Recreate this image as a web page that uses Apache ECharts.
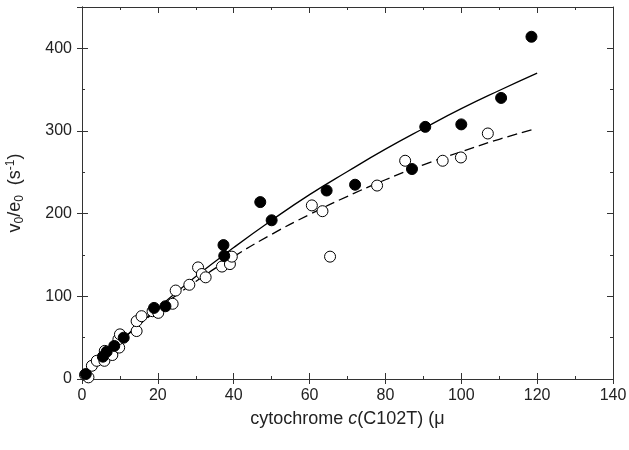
<!DOCTYPE html>
<html>
<head>
<meta charset="utf-8">
<script src="https://cdn.jsdelivr.net/npm/echarts@6/dist/echarts.min.js"></script>
<style>html,body{margin:0;padding:0;background:#fff}#c{width:629px;height:450px}</style>
</head>
<body>
<div id="c"></div>
<script>
// filled circles [conc, rate]
var filledPts = [
  [1, 6], [5.5, 27], [6.5, 33], [8.5, 40], [11, 50], [19, 86], [22, 88],
  [37.3, 162], [37.5, 149], [47, 214], [50, 192], [64.5, 228], [72, 235],
  [87, 254], [90.5, 305], [100, 308], [110.5, 340], [118.5, 414]
];
// open circles
var openPts = [
  [0.8, 5], [1.7, 2], [2.6, 16], [3.9, 22], [5.9, 22], [6, 34], [8, 29],
  [9.8, 38], [9.6, 48], [10, 54], [14.4, 58], [14.4, 70], [15.7, 76],
  [18.6, 82], [20.1, 80], [23.9, 91], [24.7, 107], [28.3, 114], [30.6, 135],
  [31.6, 127], [32.6, 123], [36.9, 136], [39, 139], [39.5, 148], [60.6, 210],
  [63.4, 203], [65.4, 148], [77.8, 234], [85.2, 264], [95.1, 264], [99.9, 268],
  [107, 297]
];
// fitted curves
var solidFit = [
  [0, 0], [10, 45], [20, 86], [30, 124], [40, 159], [50, 192], [60, 223],
  [70, 251], [80, 278], [90, 303], [100, 327], [110, 349], [120, 370]
];
var dashFit = [
  [0, 0], [10, 45], [20, 84], [30, 118], [40, 148], [50, 175], [60, 199],
  [70, 221], [80, 241], [90, 259], [100, 275], [110, 290], [119, 302]
];

var font = 'Liberation Sans, Arial, sans-serif';
var axisCol = '#333';

function frameAxis(pos, isX) {
  return {
    type: 'value', position: pos, min: 0, max: isX ? 140 : 450,
    interval: isX ? 20 : 100,
    axisLine: { show: true, onZero: false, lineStyle: { color: axisCol, width: 1 } },
    axisTick: { show: true, inside: true, length: 6, lineStyle: { color: axisCol } },
    minorTick: { show: true, splitNumber: 2, length: 3, lineStyle: { color: axisCol } },
    axisLabel: { show: false },
    splitLine: { show: false }
  };
}

var chart = echarts.init(document.getElementById('c'));
var xMain = frameAxis('bottom', true);
xMain.axisLabel = { show: true, color: '#222', fontSize: 16, fontFamily: font, margin: 9 };
xMain.axisTick = { show: true, inside: false, length: 5, lineStyle: { color: axisCol } };
xMain.minorTick = { show: false };
xMain.name = '{n|cytochrome }{i|c}{n|(C102T) (\u03bc}';
xMain.nameLocation = 'middle';
xMain.nameGap = 31;
xMain.nameTextStyle = {
  rich: {
    n: { fontSize: 18, fontFamily: font, color: '#222' },
    i: { fontSize: 18, fontFamily: font, color: '#222', fontStyle: 'italic' }
  }
};
var xIn = frameAxis('bottom', true);
var xTop = frameAxis('top', true);

var yMain = frameAxis('left', false);
yMain.axisLabel = {
  show: true, color: '#222', fontSize: 16, fontFamily: font, margin: 10,
  formatter: function (v) { return v > 400 ? '' : v; }
};
yMain.axisTick = { show: true, inside: false, length: 5, lineStyle: { color: axisCol } };
yMain.minorTick = { show: false };
yMain.name = '{n|v}{s|0}{n|/e}{s|0}{n|  (s}{p|-1}{n|)}';
yMain.nameLocation = 'middle';
yMain.nameRotate = 90;
yMain.nameGap = 56;
yMain.nameTextStyle = {
  rich: {
    n: { fontSize: 18, fontFamily: font, color: '#222' },
    s: { fontSize: 12, fontFamily: font, color: '#222', padding: [10, 0, 0, 0] },
    p: { fontSize: 12, fontFamily: font, color: '#222', padding: [0, 0, 9, 0] }
  }
};
var yIn = frameAxis('left', false);
var yRight = frameAxis('right', false);

chart.setOption({
  animation: false,
  backgroundColor: '#fff',
  grid: { left: 82, right: 16, top: 7, bottom: 71, outerBoundsMode: 'none', containLabel: false },
  xAxis: [xMain, xIn, xTop],
  yAxis: [yMain, yIn, yRight],
  series: [
    {
      type: 'line', data: solidFit, showSymbol: false, smooth: true,
      lineStyle: { color: '#000', width: 1.3 }, z: 3
    },
    {
      type: 'line', data: dashFit, showSymbol: false, smooth: true,
      lineStyle: { color: '#000', width: 1.3, type: [10, 5] }, z: 3
    },
    {
      type: 'scatter', data: openPts, symbol: 'circle', symbolSize: 11,
      itemStyle: { color: '#fff', borderColor: '#000', borderWidth: 1, opacity: 1 }, z: 4
    },
    {
      type: 'scatter', data: filledPts, symbol: 'circle', symbolSize: 11,
      itemStyle: { color: '#000', borderColor: '#000', borderWidth: 1, opacity: 1 }, z: 5
    }
  ]
});
</script>
</body>
</html>
